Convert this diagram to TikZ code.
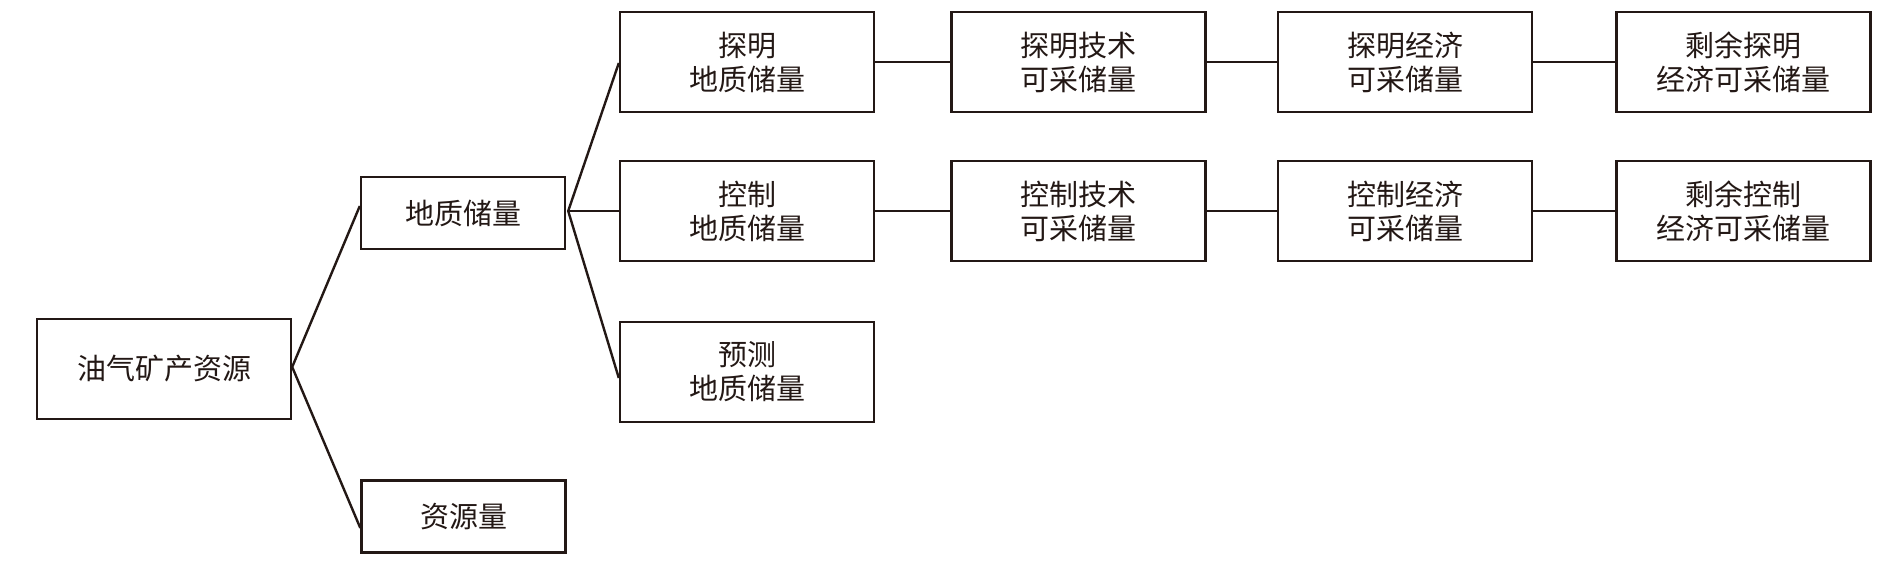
\documentclass[tikz,border=0pt]{standalone}
\usepackage{fontspec}
\setmainfont{Noto Sans CJK SC}
\usetikzlibrary{calc}
\definecolor{ink}{HTML}{231815}
\begin{document}
\begin{tikzpicture}[x=1pt,y=-1pt,
  box/.style={draw=ink,line width=2.4pt,rectangle,inner sep=0pt,align=center,
    text=ink,font=\fontsize{29}{34}\selectfont},
  big/.style={box,minimum width=254pt,minimum height=100pt},
  small/.style={box,minimum width=204pt,minimum height=72pt},
  link/.style={draw=ink,line width=2.4pt}]
\useasboundingbox (0,0) rectangle (1896,586);
\node[big]   (root) at (164,369) {油气矿产资源};
\node[small] (geo)  at (463,213) {地质储量};
\node[small] (res)  at (463.5,516.5) {资源量};
\node[big] (tm)  at (747,62)  {探明\\地质储量};
\node[big] (kz)  at (747,211) {控制\\地质储量};
\node[big] (yc)  at (747,372) {预测\\地质储量};
\node[big] (tmj) at (1078.5,62)  {探明技术\\可采储量};
\node[big] (kzj) at (1078.5,211) {控制技术\\可采储量};
\node[big] (tmx) at (1405,62)  {探明经济\\可采储量};
\node[big] (kzx) at (1405,211) {控制经济\\可采储量};
\node[big] (tms) at (1743.5,62)  {剩余探明\\经济可采储量};
\node[big] (kzs) at (1743.5,211) {剩余控制\\经济可采储量};
\coordinate (rj) at ($(root.east)+(0,-2)$);
\coordinate (gj) at ($(geo.east)+(2,-2)$);
\draw[link] ($(geo.west)+(0,-7)$) -- (rj) -- ($(res.west)+(0,11.5)$);
\draw[link] ($(tm.west)+(0,1)$) -- (gj) -- ($(yc.west)+(0,6)$);
\draw[link] (gj) -- (kz.west);
\draw[link] (tm) -- (tmj) -- (tmx) -- (tms);
\draw[link] (kz) -- (kzj) -- (kzx) -- (kzs);
\end{tikzpicture}
\end{document}
